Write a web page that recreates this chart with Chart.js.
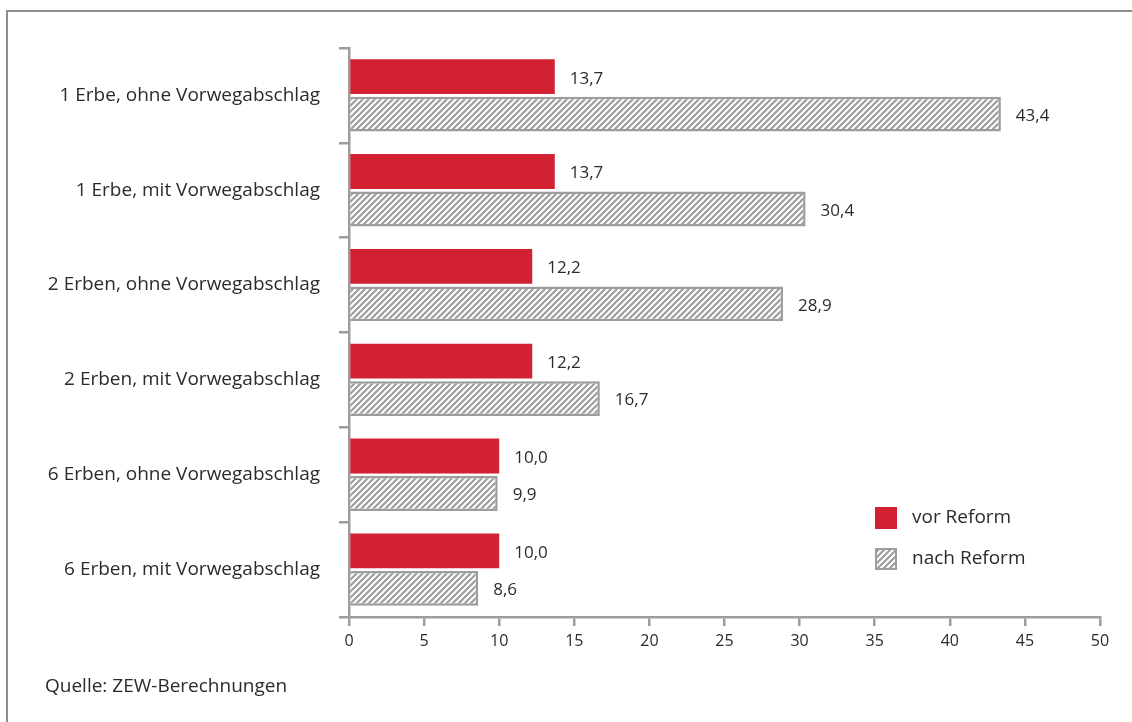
<!DOCTYPE html>
<html lang="de">
<head>
<meta charset="utf-8">
<script src="https://cdn.jsdelivr.net/npm/chart.js@4.4.1/dist/chart.umd.min.js"></script>
<style>
  html, body { margin: 0; padding: 0; background: #fff; overflow: hidden; }
  #wrap { position: relative; width: 1132px; height: 722px; }
  #rahmen { position: absolute; left: 6px; top: 10px; width: 1140px; height: 730px;
            border-top: 2px solid #8e8e8e; border-left: 2px solid #8e8e8e; }
  #quelle { position: absolute; left: 45px; top: 672px; font: 19px "Open Sans", sans-serif; color: #2b2b2b; }
  canvas { position: absolute; left: 0; top: 0; }
</style>
</head>
<body>
<div id="wrap">
  <div id="rahmen"></div>
  <canvas id="myChart" width="1132" height="722"></canvas>
  <div id="quelle">Quelle: ZEW-Berechnungen</div>
</div>
<script>
// Daten
const kategorien = [
  '1 Erbe, ohne Vorwegabschlag',
  '1 Erbe, mit Vorwegabschlag',
  '2 Erben, ohne Vorwegabschlag',
  '2 Erben, mit Vorwegabschlag',
  '6 Erben, ohne Vorwegabschlag',
  '6 Erben, mit Vorwegabschlag'
];
const vorReform = [13.7, 13.7, 12.2, 12.2, 10.0, 10.0];
const nachReform = [43.4, 30.4, 28.9, 16.7, 9.9, 8.6];
const serienNamen = ['vor Reform', 'nach Reform'];

const rot = '#d22133';
const grau = '#9d9d9d';
const textFarbe = '#2b2b2b';
const schrift = '"Open Sans", sans-serif';

// Schraffur-Muster
function schraffur() {
  const c = document.createElement('canvas');
  c.width = 6; c.height = 6;
  const g = c.getContext('2d');
  g.fillStyle = '#fff';
  g.fillRect(0, 0, 6, 6);
  g.strokeStyle = grau;
  g.lineWidth = 2.2;
  g.beginPath();
  g.moveTo(-1, 7); g.lineTo(7, -1);
  g.moveTo(-4, 4); g.lineTo(4, -4);
  g.moveTo(2, 10); g.lineTo(10, 2);
  g.stroke();
  return g.createPattern(c, 'repeat');
}

const ctx = document.getElementById('myChart').getContext('2d');
const muster = schraffur();

const fmt = v => v.toFixed(1).replace('.', ',');

// Wertbeschriftungen
const wertePlugin = {
  id: 'werte',
  afterDatasetsDraw(chart) {
    const c = chart.ctx;
    c.save();
    c.font = '17px ' + schrift;
    c.fillStyle = textFarbe;
    c.textAlign = 'left';
    c.textBaseline = 'middle';
    chart.data.datasets.forEach((ds, i) => {
      chart.getDatasetMeta(i).data.forEach((el, j) => {
        c.fillText(fmt(ds.data[j]), el.x + 15, el.y + 2);
      });
    });
    c.restore();
  }
};

// Legende im Diagramm
const legendePlugin = {
  id: 'legende',
  afterDraw(chart) {
    const c = chart.ctx;
    c.save();
    c.font = '19px ' + schrift;
    c.textBaseline = 'middle';
    chart.data.datasets.forEach((ds, i) => {
      const y = 507 + i * 41;
      c.fillStyle = ds.backgroundColor;
      c.fillRect(875, y, 22, 22);
      if (ds.borderWidth) {
        c.strokeStyle = ds.borderColor;
        c.lineWidth = 2;
        c.strokeRect(876, y + 1, 20, 20);
      }
      c.fillStyle = textFarbe;
      c.fillText(ds.label, 912, y + 11);
    });
    c.restore();
  }
};

new Chart(ctx, {
  type: 'bar',
  data: {
    labels: kategorien,
    datasets: [{
      label: serienNamen[0],
      data: vorReform,
      backgroundColor: rot,
      borderWidth: 0
    }, {
      label: serienNamen[1],
      data: nachReform,
      backgroundColor: muster,
      borderColor: grau,
      borderWidth: 2.5
    }]
  },
  options: {
    indexAxis: 'y',
    responsive: false,
    animation: false,
    categoryPercentage: 0.79,
    barPercentage: 0.93,
    layout: { padding: { left: 0, top: 48, right: 32, bottom: 55 } },
    plugins: {
      legend: { display: false },
      tooltip: { enabled: false }
    },
    scales: {
      x: {
        min: 0,
        max: 50,
        ticks: { stepSize: 5, color: textFarbe, font: { family: schrift, size: 16 }, padding: 6 },
        grid: { drawOnChartArea: false, drawTicks: true, tickLength: 9, color: grau, lineWidth: 2.5 },
        border: { color: grau, width: 2.5 },
        afterFit(s) { s.height = 50; }
      },
      y: {
        ticks: { color: textFarbe, font: { family: schrift, size: 19 }, padding: 19 },
        grid: { drawOnChartArea: false, drawTicks: true, tickLength: 10, color: grau, lineWidth: 2.5, offset: true },
        border: { color: grau, width: 2.5 },
        afterFit(s) { s.width = 349; }
      }
    }
  },
  plugins: [wertePlugin, legendePlugin]
});
</script>
</body>
</html>
